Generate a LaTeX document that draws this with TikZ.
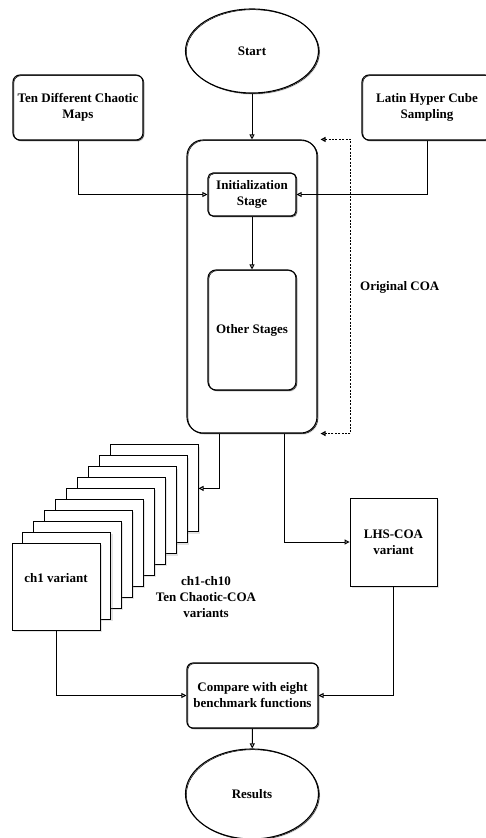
\documentclass[tikz,border=0pt]{standalone}
\usepackage{fontspec}
\setmainfont{Liberation Serif}
\usetikzlibrary{arrows.meta,shapes.geometric,shadows}

\tikzset{
  every node/.style={font=\bfseries\fontsize{13}{16}\selectfont, align=center, inner sep=0pt},
  soft/.style={drop shadow={opacity=0.22, shadow xshift=1.6pt, shadow yshift=-1.8pt}},
  % a second, thinner stroke slightly off the first gives a hand-drawn outline
  sketch/.style={postaction={draw, line width=0.5pt, transform canvas={shift={(0.9pt,-0.7pt)}}}},
  sbox/.style={draw, line width=1.1pt, fill=white, rounded corners=#1, soft, sketch},
  sbox/.default=7pt,
  oval/.style={draw, ellipse, line width=1.1pt, fill=white, soft, sketch},
  page/.style={draw, line width=0.85pt, fill=white, minimum width=88pt, minimum height=87pt, soft},
  link/.style={line width=1pt, -{Triangle[open, length=5pt, width=5pt]}},
  loop/.style={line width=1.1pt, dashed, dash pattern=on 2pt off 1.4pt,
    {Triangle[open, length=5pt, width=5pt]}-{Triangle[open, length=5pt, width=5pt]}},
}

\begin{document}
\begin{tikzpicture}[x=1pt, y=-1pt]
  \clip (0,0) rectangle (486,838);

  % terminals
  \node[oval, minimum width=133pt, minimum height=84pt] (start) at (252,51) {Start};
  \node[oval, minimum width=133pt, minimum height=90pt] (results) at (252,794) {Results};

  % inputs of the initialization stage
  \node[sbox, minimum width=130pt, minimum height=65pt] (chaos) at (78,107.5)
    {Ten Different Chaotic\\Maps};
  \node[sbox, minimum width=130pt, minimum height=65pt] (lhs) at (427,107.5)
    {Latin Hyper Cube\\Sampling};

  % original COA container and its stages
  \node[sbox=16pt, minimum width=130pt, minimum height=293pt] (coa) at (252,286.5) {};
  \node[sbox=5pt, minimum width=88pt, minimum height=43pt] (init) at (252,194.5)
    {Initialization\\Stage};
  \node[sbox=8pt, minimum width=88pt, minimum height=120pt] (other) at (252,330)
    {Other Stages};

  % stack of ten chaotic variants, drawn back to front
  \foreach \k in {9,...,1} {
    \node[page] (ch\k) at ({56+10.9*\k},{586.5-10.9*\k}) {};
  }
  \node[page] (ch0) at (56,586.5) {};
  \node (ch0label) at (56,578) {ch1 variant};
  \node (stacklabel) at (206,597) {ch1-ch10\\Ten Chaotic-COA\\variants};

  % LHS variant
  \node[page, minimum width=87pt, minimum height=88pt] (lhscoa) at (393.5,542)
    {LHS-COA\\variant};

  % evaluation
  \node[sbox=6pt, minimum width=131pt, minimum height=65pt] (cmp) at (252.5,695.5)
    {Compare with eight\\benchmark functions};

  % connectors
  \draw[link] (start) -- (coa.north);
  \draw[link] (chaos.south) |- (init.west);
  \draw[link] (lhs.south) |- (init.east);
  \draw[link] (init) -- (other);

  \draw[loop] ([xshift=3pt]coa.north east) -- ++(30,0) coordinate (looptop)
    |- ([xshift=3pt]coa.south east);
  \node[anchor=west] (origlabel) at (360,287) {Original COA};

  \draw[link] ([xshift=-33pt]coa.south) |- (ch9.east);
  \draw[link] ([xshift=32pt]coa.south) |- (lhscoa.west);

  \draw[link] (ch0.south) |- (cmp.west);
  \draw[link] (lhscoa.south) |- (cmp.east);
  \draw[link] (cmp) -- (results);
\end{tikzpicture}
\end{document}
